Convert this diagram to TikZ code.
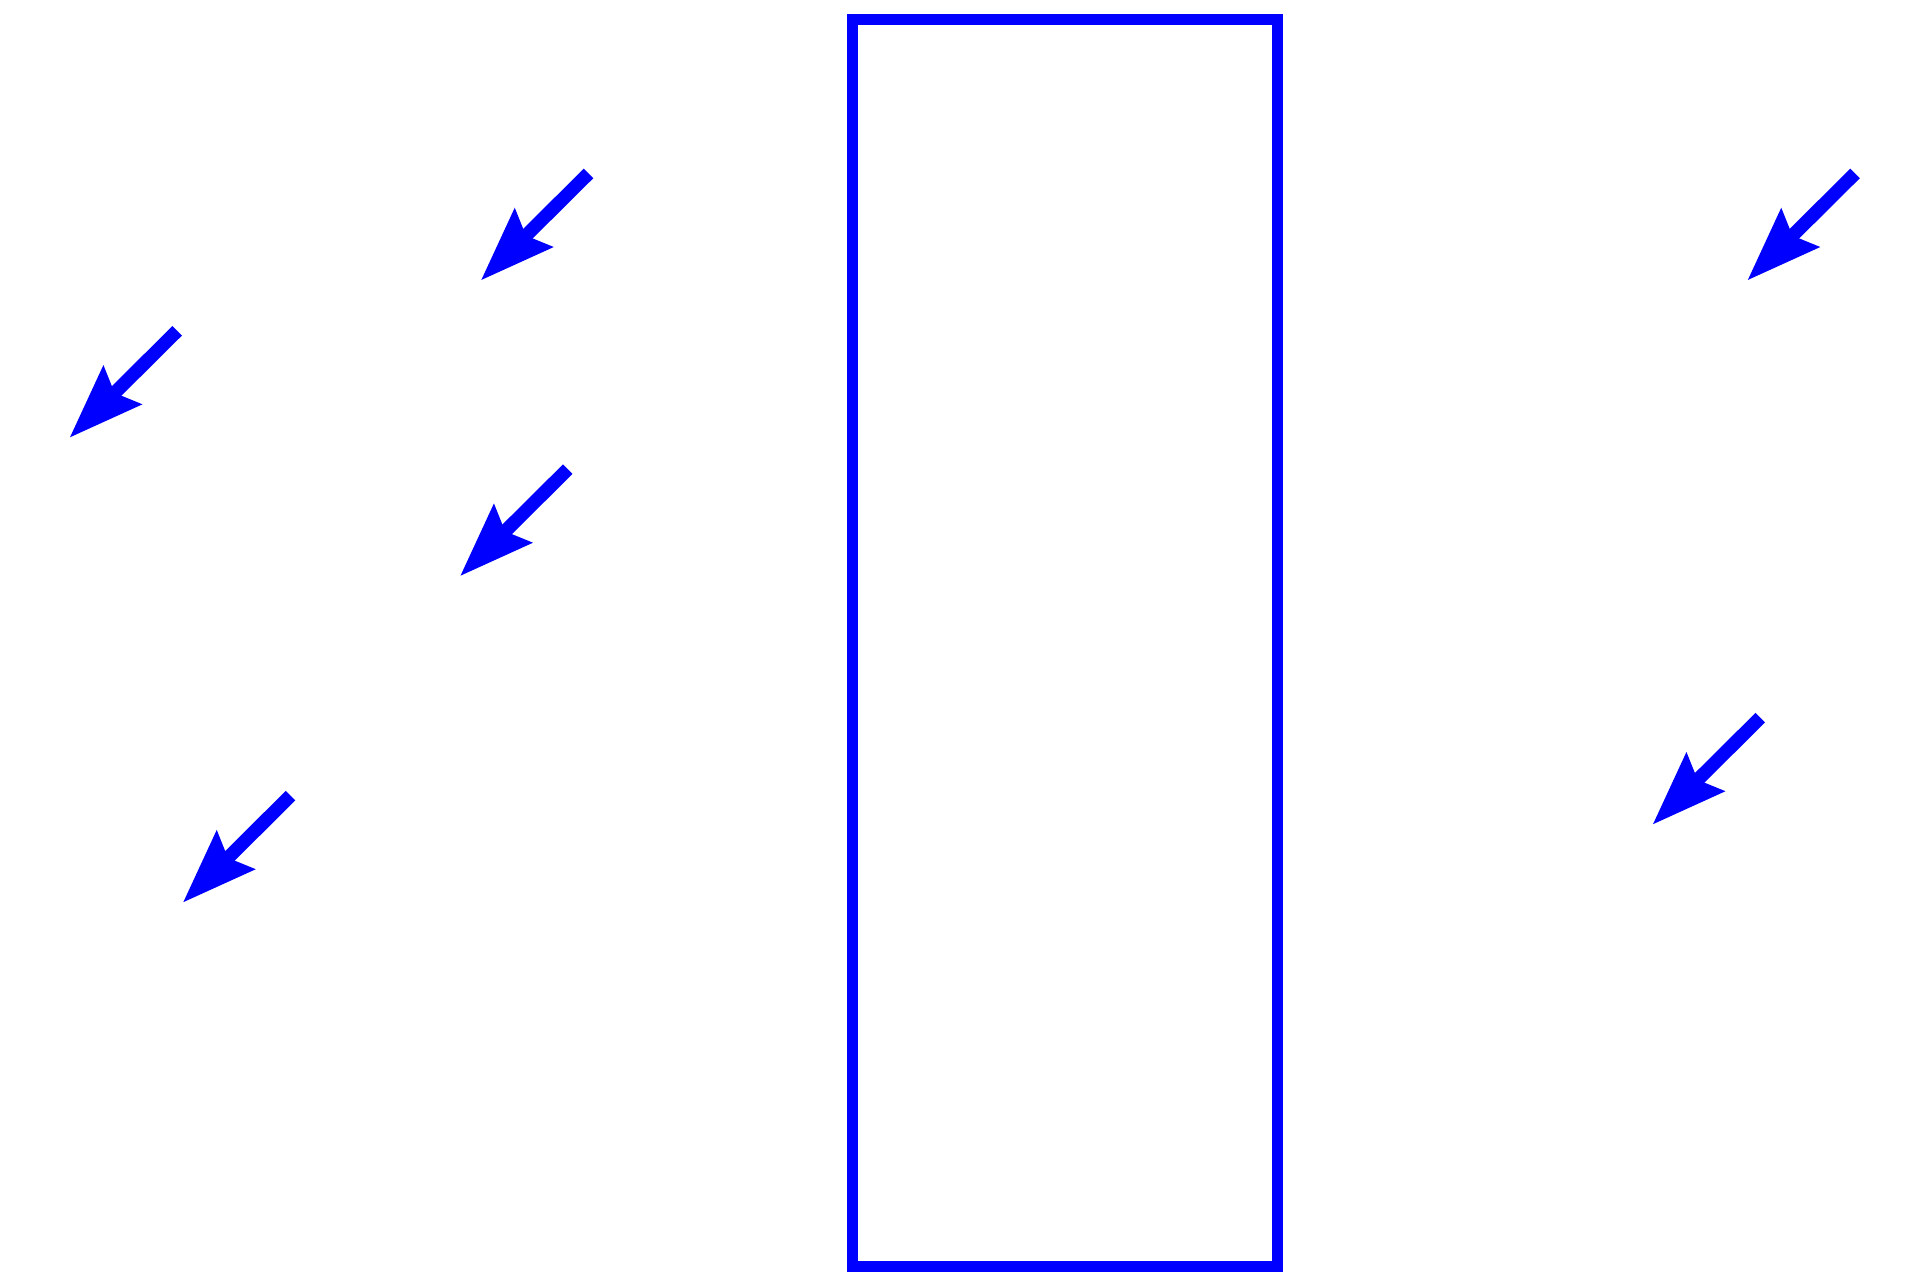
\documentclass[tikz,border=0pt]{standalone}
\usetikzlibrary{arrows.meta}

\begin{document}
\begin{tikzpicture}[
    wall/.style={blue, line width=0.11cm},
    wind/.style={blue, line width=0.135cm,
      -{Stealth[length=0.735cm, width=0.523cm, inset=0.10cm]}}
  ]
  \useasboundingbox (0, 0) rectangle (19.2, 12.8);

  \draw[wall] (8.52, 0.13) rectangle (12.77, 12.60);

  \foreach \x/\y in {
      5.885/11.065, 1.772/9.492, 5.677/8.108, 2.905/4.843, 18.55/11.065, 17.602/5.623
    } {
      \draw[wind] (\x, \y) -- ++(-1.077, -1.07);
    }
\end{tikzpicture}
\end{document}
